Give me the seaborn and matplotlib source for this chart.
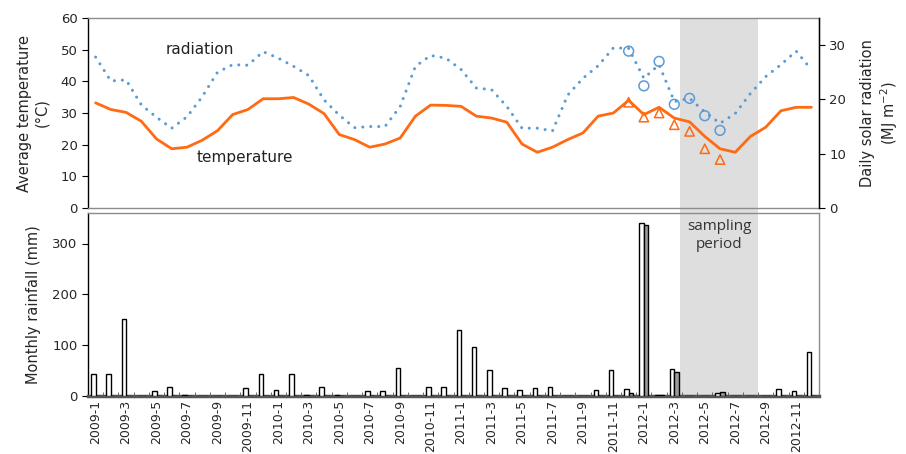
import numpy as np
import pandas as pd
import matplotlib
matplotlib.use("Agg")
import matplotlib.pyplot as plt
import seaborn as sns

sns.set_style("white")
plt.rcParams['font.family'] = ['DejaVu Sans']

# ---- data ----
years = [2009, 2010, 2011, 2012]
months = [f"{y}-{m}" for y in years for m in range(1, 13)]

temperature = [33.2, 31.1, 30.2, 27.4, 21.8, 18.7, 19.2, 21.4, 24.4, 29.5, 31.1, 34.5,
               34.5, 34.9, 32.8, 29.8, 23.2, 21.6, 19.2, 20.2, 22.1, 29.0, 32.5, 32.4,
               32.1, 29.0, 28.4, 27.1, 20.2, 17.6, 19.2, 21.6, 23.7, 29.0, 30.0, 34.0,
               29.5, 31.8, 28.4, 27.2, 22.6, 18.7, 17.6, 22.6, 25.5, 30.7, 31.8, 31.8]

radiation = [27.8, 23.4, 23.6, 19.0, 16.7, 14.7, 16.8, 20.5, 25.0, 26.4, 26.3, 28.8,
             27.6, 26.1, 24.4, 19.9, 17.1, 14.8, 15.0, 15.0, 18.7, 26.1, 28.1, 27.6,
             25.5, 22.1, 21.8, 18.7, 14.7, 14.7, 14.2, 20.8, 23.9, 26.2, 29.5, 29.4,
             23.9, 26.4, 19.6, 20.2, 17.7, 15.6, 17.4, 21.1, 24.2, 26.4, 28.9, 25.5]

rain_a = [43, 43, 151, 0, 9, 18, 2, 0, 0, 0, 16, 43,
          11, 43, 1, 18, 1, 0, 9, 9, 56, 0, 18, 18,
          129, 97, 52, 16, 11, 16, 18, 0, 0, 11, 52, 14,
          341, 2, 54, 0, 0, 5, 0, 0, 0, 13, 9, 87]
rain_b = [0] * 35 + [5, 337, 1, 47, 0, 0, 7, 0, 0, 0, 0, 0, 0]

sample_idx = [35, 36, 37, 38, 39, 40, 41]
sample_temp = [33.4, 28.7, 30.0, 26.3, 24.2, 18.7, 15.3]
sample_rad = [28.9, 22.5, 27.0, 19.1, 20.2, 17.0, 14.3]

period_start, period_end = 38.4, 43.5

ORANGE = "#FF6A13"
BLUE = "#5B9BD5"
BOX = "#8c8c8c"

fig = plt.figure(figsize=(9.06, 4.54), dpi=100)
ax1 = fig.add_axes([88/906, 1-208/454, (819-88)/906, (208-18)/454])
ax2 = fig.add_axes([88/906, 1-396/454, (819-88)/906, (396-213)/454])
ax1r = ax1.twinx()

idx = np.arange(len(months))

# shading
ax1.axvspan(period_start, period_end, ymin=-0.05, ymax=1, color="#dedede", lw=0, zorder=0, clip_on=False)
ax2.axvspan(period_start, period_end, color="#dedede", lw=0, zorder=0)

# top lines
sns.lineplot(x=idx, y=temperature, ax=ax1, color=ORANGE, lw=2)
sns.lineplot(x=idx, y=radiation, ax=ax1r, color=BLUE, lw=2.2)
rl = ax1r.lines[-1]
rl.set_linestyle((0, (0.01, 2.6)))
rl.set_dash_capstyle('round')
ax1.scatter(sample_idx, sample_temp, marker='^', s=45, facecolors='none',
            edgecolors=ORANGE, linewidths=1.1, zorder=5)
ax1r.scatter(sample_idx, sample_rad, marker='o', s=50, facecolors='none',
             edgecolors=BLUE, linewidths=1.1, zorder=5)

ax1.set_xlim(-0.5, 47.5)
ax1.set_ylim(0, 60)
ax1r.set_ylim(0, 35)
ax1.set_yticks(range(0, 61, 10))
ax1r.set_yticks(range(0, 31, 10))
ax1.set_xticks([])
ax1.set_ylabel("Average temperature\n(°C)", fontsize=10.5, labelpad=8)
ax1r.set_ylabel("Daily solar radiation\n(MJ m$^{-2}$)", fontsize=10.5, labelpad=10)
ax1.text(6.85, 50, "radiation", fontsize=11, ha='center', va='center', color="#222222")
ax1.text(9.8, 16, "temperature", fontsize=11, ha='center', va='center', color="#222222")

# bottom bars
df = pd.DataFrame({
    "month": months * 2,
    "rain": rain_a + rain_b,
    "station": ["A"] * len(months) + ["B"] * len(months),
})
sns.barplot(data=df, x="month", y="rain", hue="station", order=months,
            palette={"A": "white", "B": "#9c9c9c"}, edgecolor="black",
            linewidth=1, width=0.6, dodge=True, legend=False, ax=ax2, zorder=3)
ax2.set_xlim(-0.5, 47.5)
ax2.set_ylim(0, 360)
ax2.set_yticks([0, 100, 200, 300])
ax2.set_xticks(idx[::2])
ax2.set_xticklabels(months[::2], rotation=90, fontsize=9)
ax2.set_xticks(idx[:-1] + 0.5, minor=True)
ax2.tick_params(axis='x', which='major', length=0, pad=3)
ax2.tick_params(axis='x', which='minor', length=3, direction='in', color='#555555', bottom=True)
ax2.set_xlabel("")
ax2.set_ylabel("Monthly rainfall (mm)", fontsize=10.5, labelpad=8)
ax2.text(40.95, 316, "sampling\nperiod", fontsize=11, ha='center', va='center',
         color="#333333", linespacing=1.3, family="Open Sans")

for ax in (ax1, ax1r, ax2):
    ax.tick_params(axis='y', labelsize=9.5, length=4, direction='out', color='black')
for ax in (ax1, ax2):
    ax.tick_params(axis='y', left=True, right=False)
    for s in ("top", "right", "bottom"):
        ax.spines[s].set_color(BOX)
        ax.spines[s].set_linewidth(1.0)
    ax.spines["left"].set_color("black")
    ax.spines["left"].set_linewidth(1.0)
ax2.spines["bottom"].set_color("#555555")
ax2.spines["bottom"].set_linewidth(2.5)
ax1r.tick_params(axis='y', right=True, left=False)
ax1r.spines["right"].set_color("black")
ax1r.spines["right"].set_linewidth(1.0)
for s in ("top", "left", "bottom"):
    ax1r.spines[s].set_visible(False)

fig.savefig("out.png", dpi=100)
